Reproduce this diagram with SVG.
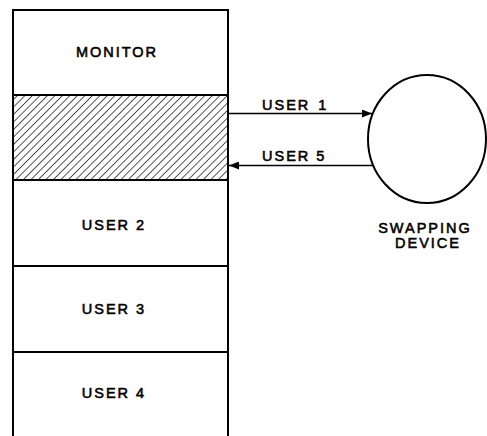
<svg xmlns="http://www.w3.org/2000/svg" width="487" height="436" viewBox="0 0 487 436">
<style>
.box{fill:#fff;stroke:#000;stroke-width:2}
.lbl{font-family:"Liberation Sans",Arial,sans-serif;font-size:14.5px;fill:#000;stroke:#000;stroke-width:0.55;letter-spacing:2px}
.conn{stroke:#000;stroke-width:1.6;fill:none}
</style>
<defs>
<pattern id="hatch" patternUnits="userSpaceOnUse" width="5.3" height="5.3" patternTransform="rotate(45)">
<line x1="0" y1="0" x2="0" y2="5.3" stroke="#000" stroke-width="1.3"/>
</pattern>
<marker id="arr" viewBox="0 0 10 8" refX="10" refY="4" markerWidth="10" markerHeight="8" markerUnits="userSpaceOnUse" orient="auto">
<path d="M0,0 L10,4 L0,8 Z" fill="#000"/>
</marker>
</defs>
<g id="monitor">
<rect class="box" x="13" y="10" width="215" height="85"/>
<text class="lbl" x="117" y="57" text-anchor="middle">MONITOR</text>
</g>
<g id="user-hatched">
<rect x="13" y="95" width="215" height="85" fill="url(#hatch)" stroke="#000" stroke-width="2"/>
</g>
<g id="user2">
<rect class="box" x="13" y="180" width="215" height="86"/>
<text class="lbl" x="114" y="230" text-anchor="middle">USER 2</text>
</g>
<g id="user3">
<rect class="box" x="13" y="266" width="215" height="86"/>
<text class="lbl" x="114" y="314" text-anchor="middle">USER 3</text>
</g>
<g id="user4">
<rect class="box" x="13" y="352" width="215" height="86"/>
<text class="lbl" x="114" y="398" text-anchor="middle">USER 4</text>
</g>
<g id="swapping-device">
<ellipse cx="427" cy="139" rx="59" ry="64" fill="#fff" stroke="#000" stroke-width="2"/>
<text class="lbl" x="425" y="233" text-anchor="middle">SWAPPING</text>
<text class="lbl" x="428" y="248" text-anchor="middle">DEVICE</text>
</g>
<g id="connectors">
<line class="conn" x1="229" y1="113.5" x2="372" y2="113.5" marker-end="url(#arr)"/>
<text class="lbl" x="262" y="110">USER<tspan dx="8">1</tspan></text>
<line class="conn" x1="373" y1="165.5" x2="229" y2="165.5" marker-end="url(#arr)"/>
<text class="lbl" x="262" y="161">USER 5</text>
</g>
</svg>
